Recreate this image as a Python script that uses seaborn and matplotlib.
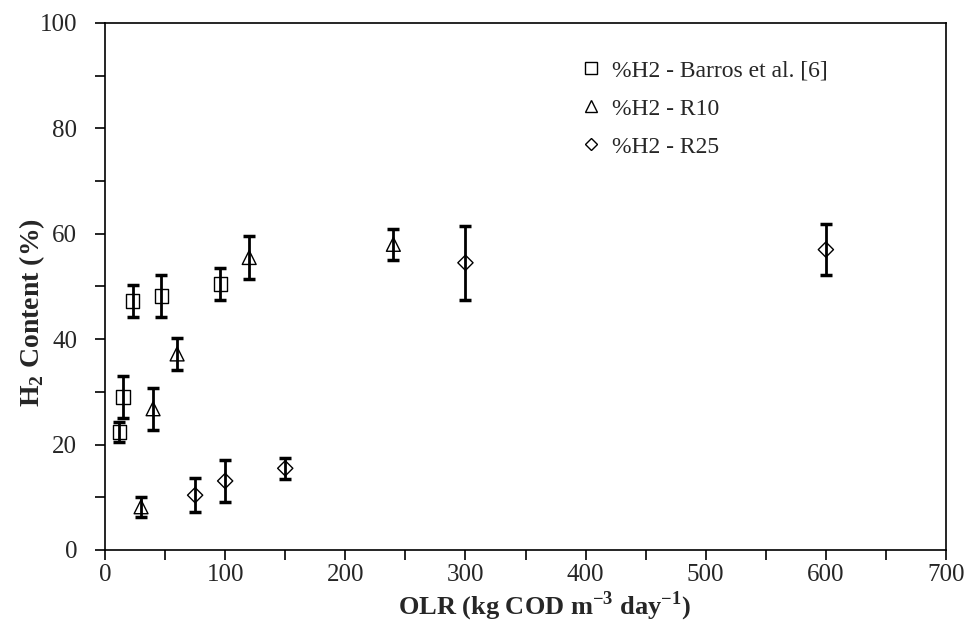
import matplotlib
matplotlib.use("Agg")
import matplotlib.pyplot as plt
import seaborn as sns
import pandas as pd
from matplotlib.lines import Line2D
from matplotlib.ticker import MultipleLocator

# values
barros_olr = [12, 15, 23, 47, 96]
barros_h2 = [22.4, 29.0, 47.2, 48.2, 50.5]
barros_err = [1.9, 4.0, 3.0, 4.0, 3.0]

r10_olr = [30, 40, 60, 120, 240]
r10_h2 = [8.2, 26.8, 37.2, 55.5, 58.0]
r10_err = [1.9, 4.0, 3.0, 4.0, 3.0]

r25_olr = [75, 100, 150, 300, 600]
r25_h2 = [10.4, 13.1, 15.5, 54.5, 57.0]
r25_err = [3.2, 4.0, 2.0, 7.0, 4.8]

labels = ["%H2 - Barros et al. [6]", "%H2 - R10", "%H2 - R25"]
markers = {"%H2 - Barros et al. [6]": "s", "%H2 - R10": "^", "%H2 - R25": "D"}

df = pd.concat([
    pd.DataFrame({"olr": barros_olr, "h2": barros_h2, "err": barros_err, "series": labels[0]}),
    pd.DataFrame({"olr": r10_olr, "h2": r10_h2, "err": r10_err, "series": labels[1]}),
    pd.DataFrame({"olr": r25_olr, "h2": r25_h2, "err": r25_err, "series": labels[2]}),
])

sns.set_style("ticks")
plt.rcParams["font.family"] = ["Liberation Serif", "DejaVu Serif"]
plt.rcParams["mathtext.fontset"] = "custom"
plt.rcParams["mathtext.rm"] = "Liberation Serif"
plt.rcParams["mathtext.bf"] = "Liberation Serif:bold"

fig = plt.figure(figsize=(9.67, 6.3), dpi=100)
ax = fig.add_axes([0.1086, 0.127, 0.8697, 0.8365])

for name, grp in df.groupby("series", sort=False):
    ax.errorbar(grp["olr"], grp["h2"], yerr=grp["err"], fmt="none", ecolor="black",
                elinewidth=2, capsize=4.5, capthick=2.5, zorder=2)

sizes = {"s": 95, "^": 100, "D": 60}
for name, grp in df.groupby("series", sort=False):
    m = markers[name]
    sns.scatterplot(data=grp, x="olr", y="h2", marker=m, s=sizes[m], facecolor="none",
                    edgecolor="black", linewidth=1.0, ax=ax, legend=False, zorder=3)

ax.set_xlim(0, 700)
ax.set_ylim(0, 100)
ax.xaxis.set_major_locator(MultipleLocator(100))
ax.xaxis.set_minor_locator(MultipleLocator(50))
ax.yaxis.set_major_locator(MultipleLocator(20))
ax.yaxis.set_minor_locator(MultipleLocator(10))
ax.tick_params(which="both", direction="out", length=7, width=1.2, color="black")
ax.tick_params(axis="x", which="major", labelsize=18, pad=3)
ax.tick_params(axis="y", which="major", labelsize=18, pad=13)
for s in ax.spines.values():
    s.set_visible(True)
    s.set_color("black")
    s.set_linewidth(1.2)

ax.set_xlabel(r"OLR (kg COD m$^{\mathbf{-3}}$ day$^{\mathbf{-1}}$)", fontsize=19,
              fontweight="bold")
ax.xaxis.set_label_coords(0.523, -0.076)
ax.set_ylabel(r"H$_{\mathbf{2}}$ Content (%)", fontsize=20, fontweight="bold")
ax.yaxis.set_label_coords(-0.069, 0.45)

handles = [Line2D([], [], linestyle="none", marker=markers[l], markersize=8 if markers[l] != "D" else 6,
                  markerfacecolor="none", markeredgecolor="black", markeredgewidth=1.0)
           for l in labels]
ax.legend(handles, labels, loc="upper left", bbox_to_anchor=(0.541, 0.97), frameon=False,
          fontsize=17, handlelength=0.8, handletextpad=0.5, labelspacing=0.7)

fig.savefig("out.png", dpi=100)
